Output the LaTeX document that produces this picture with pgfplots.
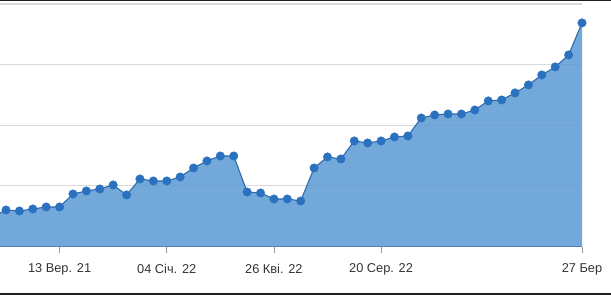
\documentclass[border=0pt]{standalone}
\usepackage{fontspec}
\setmainfont{Liberation Sans}
\usepackage{pgfplots}
\pgfplotsset{compat=1.18}
\definecolor{areafill}{HTML}{5B99D3}
\definecolor{lineblue}{HTML}{2F6AAE}
\definecolor{markblue}{HTML}{2A72BF}
\definecolor{gridgrey}{HTML}{D9D9D9}
\definecolor{axisgrey}{HTML}{4F6A86}
\definecolor{textgrey}{HTML}{333333}
\begin{document}
\begin{tikzpicture}[x=1pt,y=1pt]
\path[use as bounding box] (0,0) rectangle (611,295);
\clip (0,0) rectangle (611,295);
\begin{axis}[
  at={(0pt,48.5pt)}, anchor=south west,
  scale only axis, width=582pt, height=242.5pt,
  xmin=-0.448, xmax=43, ymin=0, ymax=400,
  axis x line*=bottom, axis y line*=left,
  y axis line style={draw=none},
  x axis line style={draw=axisgrey, line width=1pt},
  xtick={4,12,20,28,43},
  xticklabels={13 Вер. 21, 04 Січ. 22, 26 Кві. 22, 20 Сер. 22, 27 Бер},
  x tick style={draw=gray!80, line width=0.8pt},
  major tick length=6pt,
  tick align=outside,
  xticklabel style={font=\fontsize{12.8}{14}\selectfont, text=textgrey, yshift=-8pt},
  ytick={100,200,300,400}, yticklabels={},
  y tick style={draw=none},
  ymajorgrids, grid style={draw=gridgrey, line width=1.2pt},
  clip=true,
]
\addplot[fill=areafill, fill opacity=0.85, draw=none] coordinates {
(-1,49) (0,60.2) (1,58.6) (2,61.9) (3,65.2) (4,65.2) (5,86.6) (6,91.6) (7,94.9) (8,101.5) (9,85.0)
(10,111.4) (11,108.1) (12,108.1) (13,114.7) (14,129.5) (15,141.1) (16,149.3) (17,149.3) (18,89.9) (19,88.3)
(20,78.4) (21,78.4) (22,75.1) (23,129.5) (24,147.7) (25,144.4) (26,174.1) (27,170.8) (28,174.1) (29,180.7)
(30,182.3) (31,212.0) (32,217.0) (33,218.6) (34,218.6) (35,225.2) (36,240.1) (37,241.7) (38,253.3) (39,266.5)
(40,283.0) (41,296.2) (42,316.0) (43,368.8)
} \closedcycle;
\addplot[draw=lineblue, line width=1.1pt, mark=*, mark size=4.3pt,
  mark options={fill=markblue, draw=markblue, line width=0.3pt, solid}] coordinates {
(-1,49) (0,60.2) (1,58.6) (2,61.9) (3,65.2) (4,65.2) (5,86.6) (6,91.6) (7,94.9) (8,101.5) (9,85.0)
(10,111.4) (11,108.1) (12,108.1) (13,114.7) (14,129.5) (15,141.1) (16,149.3) (17,149.3) (18,89.9) (19,88.3)
(20,78.4) (21,78.4) (22,75.1) (23,129.5) (24,147.7) (25,144.4) (26,174.1) (27,170.8) (28,174.1) (29,180.7)
(30,182.3) (31,212.0) (32,217.0) (33,218.6) (34,218.6) (35,225.2) (36,240.1) (37,241.7) (38,253.3) (39,266.5)
(40,283.0) (41,296.2) (42,316.0) (43,368.8)
};
\end{axis}
\fill[black!88] (0,0) rectangle (611,2.5);
\fill[black!88] (0,293.5) rectangle (611,295);
\end{tikzpicture}
\end{document}
